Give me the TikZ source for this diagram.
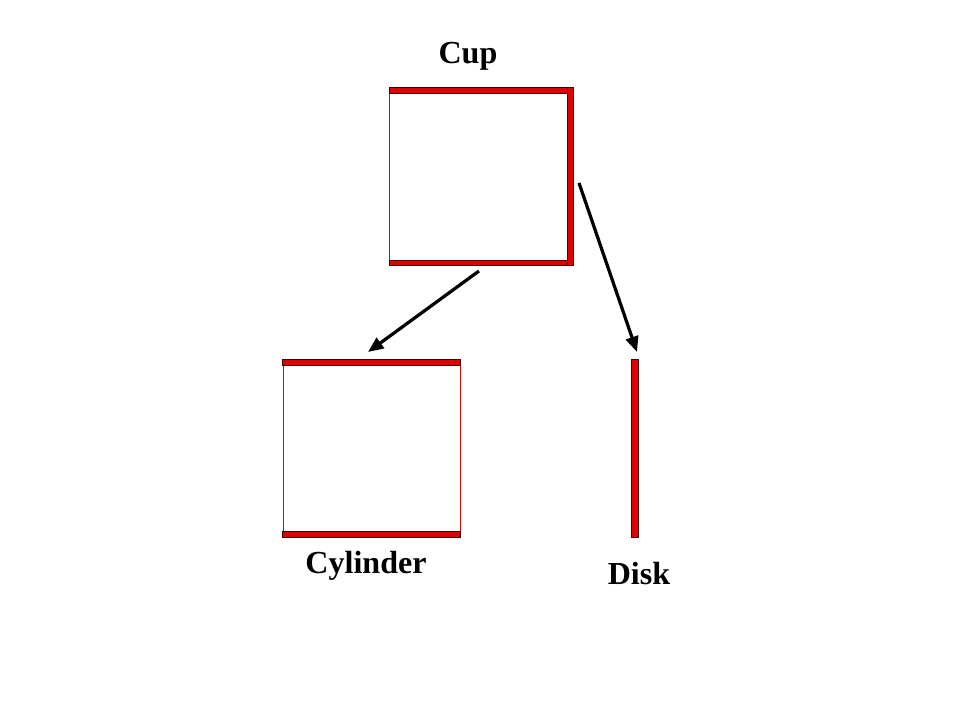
\documentclass[tikz,border=0pt]{standalone}
\usepackage{fontspec}
\setmainfont{Liberation Serif}
\usetikzlibrary{arrows.meta}
\definecolor{barred}{RGB}{224,0,0}
\begin{document}
\begin{tikzpicture}[x=0.025cm,y=-0.025cm,
  bar/.style={fill=barred,draw=black!70!barred,line width=0.5pt},
  side/.style={draw=barred,line width=0.7pt},
  lab/.style={font=\fontsize{22.8}{26}\selectfont\bfseries,anchor=base,inner sep=0pt},
  arr/.style={line width=2.3pt,-{Triangle[length=11pt,width=9pt]}}]
\useasboundingbox (0,0) rectangle (960,720);
% Cup
\draw[side] (389,88) -- (389,265);
\draw[bar] (389,87.5) rectangle (570,93.5);
\draw[bar] (389,260) rectangle (570,265.5);
\draw[bar] (567.5,87.5) rectangle (573.5,265.5);
\node[lab] (cuplab) at (468,64) {Cup};
% Cylinder
\draw[side] (283,360) -- (283,537) (460,360) -- (460,537);
\draw[bar] (282.5,359.5) rectangle (460.5,365.5);
\draw[bar] (282.5,531.5) rectangle (460.5,537.5);
\node[lab] (cyllab) at (366,573) {Cylinder};
% Disk
\draw[bar] (631,359) rectangle (638,537.5);
\node[lab] (disklab) at (639,584) {Disk};
% arrows
\coordinate (a1s) at (479,271);
\coordinate (a1e) at (368,352);
\coordinate (a2s) at (579,183);
\coordinate (a2e) at (637,352);
\draw[arr] (a1s) -- (a1e);
\draw[arr] (a2s) -- (a2e);
\end{tikzpicture}
\end{document}
